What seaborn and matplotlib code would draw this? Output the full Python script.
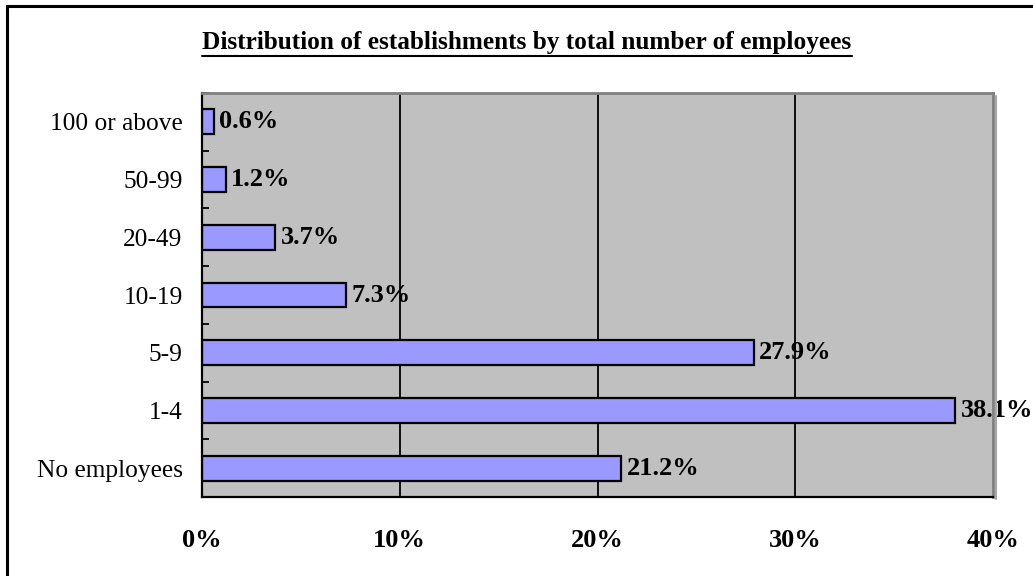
import matplotlib
matplotlib.use("Agg")
import matplotlib.pyplot as plt
import seaborn as sns
import pandas as pd
from matplotlib.lines import Line2D
from matplotlib.patches import Rectangle
from matplotlib.ticker import FixedLocator

# Establishment size bands and their share of all establishments (%)
categories = ["100 or above", "50-99", "20-49", "10-19", "5-9", "1-4", "No employees"]
shares = [0.6, 1.2, 3.7, 7.3, 27.9, 38.1, 21.2]
x_ticks = [0, 10, 20, 30, 40]
x_tick_labels = ["0%", "10%", "20%", "30%", "40%"]
title = "Distribution of establishments by total number of employees"

sns.set_theme(style="white")
plt.rcParams["font.family"] = ["Liberation Serif", "DejaVu Serif"]
plt.rcParams["text.color"] = "black"
plt.rcParams["xtick.color"] = "black"
plt.rcParams["ytick.color"] = "black"
plt.rcParams["xtick.labelcolor"] = "black"
plt.rcParams["ytick.labelcolor"] = "black"

W, H, DPI = 1033, 576, 100
fig = plt.figure(figsize=(W / DPI, H / DPI), dpi=DPI)
ax = fig.add_axes([202 / W, 1 - 497 / H, (993 - 202) / W, (497 - 93) / H])
ax.set_facecolor("#C0C0C0")

df = pd.DataFrame({"band": categories, "share": shares})
sns.barplot(data=df, x="share", y="band", order=categories, orient="h",
            color="#9999FF", saturation=1, width=0.43,
            edgecolor="black", linewidth=1.6, ax=ax, zorder=3)

ax.set_xlim(0, 40)
ax.set_ylim(len(categories) - 0.5, -0.5)

# vertical gridlines
for gx in x_ticks[1:-1]:
    ax.axvline(gx, color="black", lw=1.3, zorder=1)

# value labels
for i, v in enumerate(shares):
    ax.annotate(f"{v:.1f}%", xy=(v, i), xytext=(3.8, 0), textcoords="offset points",
                va="center", ha="left", fontsize=19, fontweight="bold",
                color="black", clip_on=False, annotation_clip=False, zorder=4)

ax.set_xlabel("")
ax.set_ylabel("")
ax.set_xticks(x_ticks)
ax.set_xticklabels(x_tick_labels, fontsize=19, fontweight="bold", color="black")
ax.tick_params(axis="x", length=0, pad=23)
ax.set_yticks(range(len(categories)))
ax.set_yticklabels(categories, fontsize=18.3, color="black")
ax.tick_params(axis="y", which="major", length=0, pad=14)
ax.yaxis.set_minor_locator(FixedLocator([i - 0.5 for i in range(len(categories) + 1)]))
ax.tick_params(axis="y", which="minor", direction="in", length=5, width=1.3,
               color="black", left=True)

for side in ("left", "bottom"):
    ax.spines[side].set_color("black")
    ax.spines[side].set_linewidth(1.6)
for side in ("top", "right"):
    ax.spines[side].set_color("#808080")
    ax.spines[side].set_linewidth(2)
for s in ax.spines.values():
    s.set_zorder(5)

# soft shadow along the plot area's right edge
fig.add_artist(Line2D([995.5 / W, 995.5 / W], [1 - 96 / H, 1 - 499 / H],
                      transform=fig.transFigure, color="#A8A8A8", lw=1.5))

# title with underline
t = fig.text(527 / W, 1 - 42 / H, title, ha="center", va="center",
             fontsize=18.2, fontweight="bold", color="black")
fig.canvas.draw()
bb = t.get_window_extent(fig.canvas.get_renderer())
uy = 1 - 56 / H
fig.add_artist(Line2D([bb.x0 / W, bb.x1 / W], [uy, uy], transform=fig.transFigure,
                      color="black", lw=1.5))

# outer chart frame
fig.add_artist(Rectangle((7 / W, -0.05), 1.1, 1 - 6 / H + 0.05, transform=fig.transFigure,
                         fill=False, edgecolor="black", lw=2.2, clip_on=False))

fig.savefig("out.png", dpi=DPI, facecolor="white")
